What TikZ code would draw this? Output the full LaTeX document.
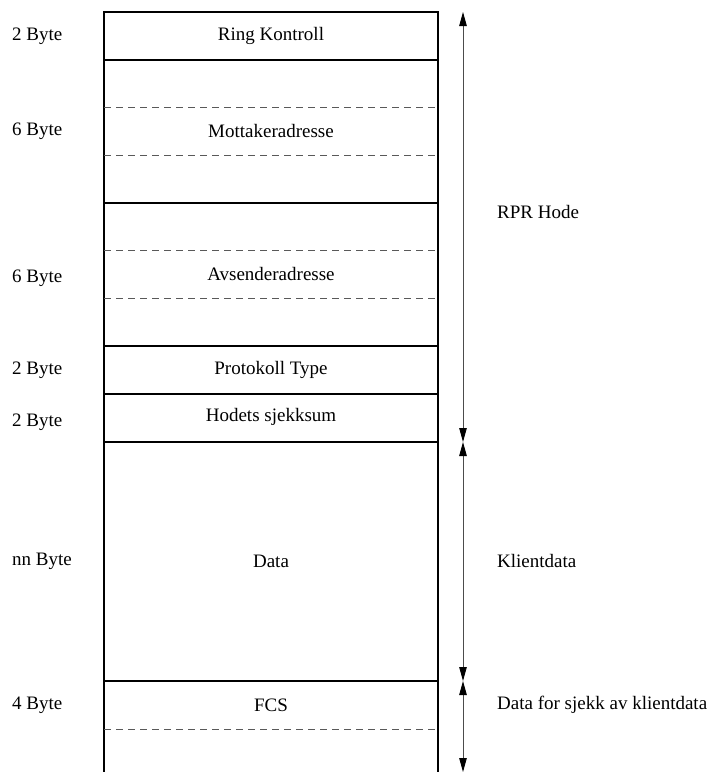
\documentclass[tikz,border=0pt]{standalone}
\usepackage{fontspec}
\setmainfont{Liberation Serif}
\usetikzlibrary{arrows.meta}
\begin{document}
\begin{tikzpicture}[x=1pt,y=-1pt,
  every node/.style={font=\fontsize{19}{22}\selectfont, inner sep=0pt},
  frame/.style={draw=black, line width=1.2pt},
  sub/.style={draw=black!65, dashed, dash pattern=on 7pt off 5pt, line width=0.9pt},
  field/.style={anchor=center},
  size/.style={anchor=west},
  part/.style={anchor=west},
  span/.style={draw=black!70, line width=0.9pt,
    {Triangle[length=14pt,width=7.5pt,color=black]}-{Triangle[length=14pt,width=7.5pt,color=black]}}]
\useasboundingbox (0,0) rectangle (709,772);

% outer frame, open at the bottom
\draw[frame] (104,772) -- (104,12) -- (438,12) -- (438,772);
% field boundaries
\foreach \y in {60,203,346,394,442,681}
  \draw[frame] (104,\y) -- (438,\y);
% byte subdivisions inside the address fields and FCS
\foreach \y in {107,155,250,298,729}
  \draw[sub] (104,\y) -- (438,\y);

% field names
\node[field] (rk)   at (271,36)  {Ring Kontroll};
\node[field] (mott) at (271,131) {Mottakeradresse};
\node[field] (avs)  at (271,274) {Avsenderadresse};
\node[field] (prot) at (271,370) {Protokoll Type};
\node[field] (hsum) at (271,417) {Hodets sjekksum};
\node[field] (data) at (271,561) {Data};
\node[field] (fcs)  at (271,705) {FCS};

% field sizes
\node[size] (s1) at (12,36)  {2 Byte};
\node[size] (s2) at (12,131) {6 Byte};
\node[size] (s3) at (12,278) {6 Byte};
\node[size] (s4) at (12,370) {2 Byte};
\node[size] (s5) at (12,422) {2 Byte};
\node[size] (s6) at (12,561) {nn Byte};
\node[size] (s7) at (12,705) {4 Byte};

% extent markers
\coordinate (a0) at (463,12);
\coordinate (a1) at (463,442);
\coordinate (a2) at (463,681);
\coordinate (a3) at (463,772);
\draw[span] (a0) -- (a1);
\draw[span] (a1) -- (a2);
\draw[span] (a2) -- (a3);

% frame sections
\node[part] (hode)   at (497,212) {RPR Hode};
\node[part] (klient) at (497,561) {Klientdata};
\node[part] (sjekk)  at (497,705) {Data for sjekk av klientdata};
\end{tikzpicture}
\end{document}
